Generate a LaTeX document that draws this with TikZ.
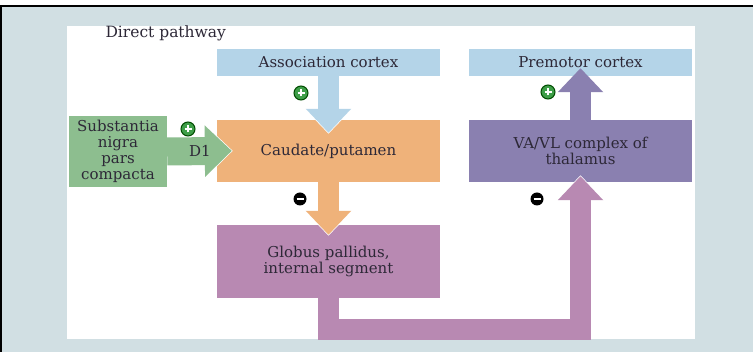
\documentclass[tikz,border=0pt]{standalone}
\usepackage{fontspec}
\setmainfont{DejaVu Serif}
\usepackage{tikz}
\usetikzlibrary{arrows.meta}
\usepackage{xcolor}
\definecolor{bgcol}{RGB}{209,223,227}
\definecolor{cortexcol}{RGB}{180,212,232}
\definecolor{caudcol}{RGB}{239,178,122}
\definecolor{sncol}{RGB}{141,190,143}
\definecolor{thalcol}{RGB}{138,128,176}
\definecolor{gpcol}{RGB}{184,137,178}
\definecolor{txtcol}{RGB}{45,40,55}
\definecolor{pluscol}{RGB}{62,158,72}
\newcommand{\boxfont}{\fontsize{15}{15.8}\selectfont}

\begin{document}
\begin{tikzpicture}[x=1pt,y=-1pt]
\tikzstyle{every node}=[text=txtcol,font=\boxfont]
\tikzstyle{region}=[minimum width=223pt,minimum height=62pt,inner sep=0pt,align=center]
\tikzstyle{flow}=[line width=21pt,-{Triangle[width=44pt,length=24pt]}]
\tikzstyle{halo}=[white,line width=21pt,-{Triangle[width=48pt,length=26pt]}]
\tikzstyle{excite}=[circle,fill=pluscol,draw=black!70!green,line width=1pt,minimum size=14pt,inner sep=0pt,
  path picture={\draw[white,line width=2.2pt] (path picture bounding box.center) ++(-3.5pt,0) -- ++(7pt,0)
    (path picture bounding box.center) ++(0,-3.5pt) -- ++(0,7pt);}]
\tikzstyle{inhibit}=[circle,fill=black,minimum size=13pt,inner sep=0pt,
  path picture={\draw[white,line width=2.2pt] (path picture bounding box.center) ++(-3.5pt,0) -- ++(7pt,0);}]
\useasboundingbox (0,0) rectangle (753,352);
% frame and panel
\fill[white] (0,0) rectangle (753,352);
\fill[bgcol] (0,5) rectangle (753,352);
\fill[black] (0,5) rectangle (753,7);
\fill[black] (0,5) rectangle (2,352);
\fill[white] (67,26) rectangle (695,339);
\node[anchor=west,font=\fontsize{15.5}{17}\selectfont] (title) at (102,33) {Direct pathway};
% regions
\node[region,fill=cortexcol,minimum height=27pt] (assoc) at (328.5,62.5) {Association cortex};
\node[region,fill=cortexcol,minimum height=27pt] (premotor) at (580.5,62.5) {Premotor cortex};
\node[region,fill=caudcol] (caud) at (328.5,151) {Caudate/putamen};
\node[region,fill=thalcol] (thal) at (580.5,151) {VA/VL complex of\\thalamus};
\node[region,fill=gpcol,minimum height=73pt] (gp) at (328.5,261.5) {Globus pallidus,\\internal segment};
\node[region,fill=sncol,minimum width=98pt,minimum height=71pt] (snpc) at (118,151.5) {Substantia\\nigra\\pars\\compacta};
% block arrows
\draw[halo,shorten >=-14pt] (assoc.south) -- (caud.north);
\draw[flow,cortexcol,shorten >=-13pt] (assoc.south) -- (caud.north);
\draw[halo,shorten >=-11pt] (caud.south) -- (gp.north);
\draw[flow,caudcol,shorten >=-10pt] (caud.south) -- (gp.north);
\draw[flow,thalcol,shorten >=-8pt] (thal.north) -- (premotor.south);
\draw[halo,shorten >=-7pt] (gp.south) -- ++(0,31) -| (thal.south);
\draw[flow,gpcol,shorten >=-6pt] (gp.south) -- ++(0,31) -| (thal.south);
\draw[halo,line width=28pt,-{Triangle[width=54pt,length=29pt]},shorten >=-16pt] (snpc.east) -- (caud.west);
\draw[flow,sncol,line width=28pt,-{Triangle[width=50pt,length=27pt]},shorten >=-15pt] (snpc.east) -- node[pos=0.66,text=txtcol] (d1) {D1} (caud.west);
% signs
\node[excite] (p1) at (301,93) {};
\node[excite] (p2) at (548,92) {};
\node[excite] (p3) at (188,129) {};
\node[inhibit] (m1) at (300,199) {};
\node[inhibit] (m2) at (537,199) {};
\end{tikzpicture}
\end{document}
